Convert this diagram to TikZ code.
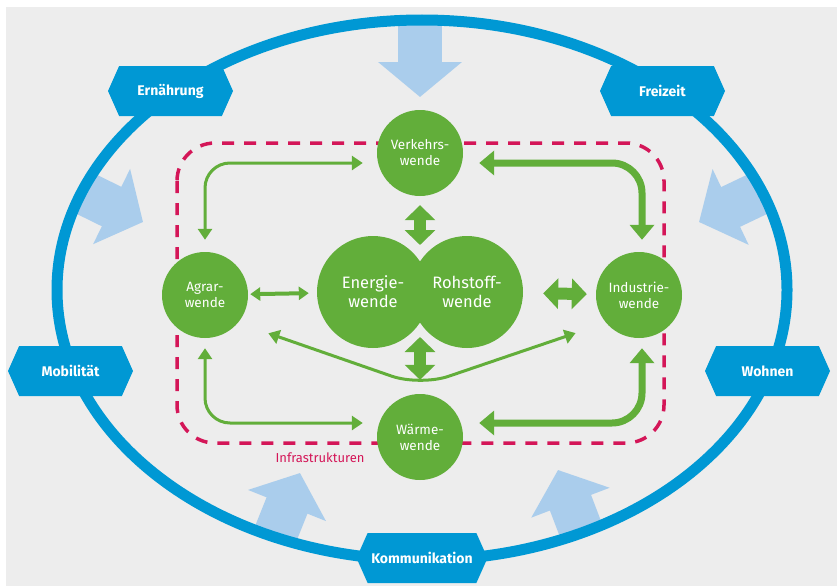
\documentclass[tikz,border=0pt]{standalone}
\usepackage{fontspec}
\setmainfont{Fira Sans}
\usepackage{tikz}
\usetikzlibrary{arrows.meta,shapes.symbols}

\definecolor{ringblue}{RGB}{0,152,212}
\definecolor{paleblue}{RGB}{170,205,236}
\definecolor{wendegreen}{RGB}{98,174,58}
\definecolor{infrared}{RGB}{212,22,88}
\definecolor{bggray}{RGB}{237,237,237}

\begin{document}
\begin{tikzpicture}[x=1pt,y=-1pt,
    wende/.style={circle,fill=wendegreen,text=white,align=center,inner sep=0pt,
      minimum size=86pt,font=\fontsize{13.5}{16}\selectfont},
    bigwende/.style={wende,minimum size=112pt,font=\fontsize{16.5}{19}\selectfont},
    field/.style={signal,signal to=east and west,signal pointer angle=132,
      fill=ringblue,text=white,minimum width=125pt,minimum height=50pt,
      inner sep=0pt,font=\fontsize{14}{16}\selectfont\bfseries},
    push/.style={paleblue,line width=44pt,-{Triangle[length=35pt,width=82pt]}},
    thinarr/.style={wendegreen,line width=3pt,rounded corners=25pt,
      {Triangle[length=11pt,width=14pt]}-{Triangle[length=11pt,width=14pt]}},
    thickarr/.style={wendegreen,line width=7pt,rounded corners=30pt,
      {Triangle[length=15pt,width=24pt]}-{Triangle[length=15pt,width=24pt]}},
    midarr/.style={wendegreen,line width=4pt,
      {Triangle[length=10pt,width=13pt]}-{Triangle[length=10pt,width=13pt]}},
    bigarr/.style={wendegreen,line width=12pt,
      {Triangle[length=15pt,width=30pt]}-{Triangle[length=15pt,width=30pt]}}]
  \useasboundingbox (0,0) rectangle (837,586);
  \fill[bggray] (6,7) rectangle (837,586);

  % influences from outside
  \draw[push] (420,15) -- (420,97);
  \draw[push] (82,192) -- (143,222);
  \draw[push] (762,192) -- (699,222);
  \draw[push] (274,538) -- (300,473);
  \draw[push] (582,533) -- (558,470);

  % ring
  \draw[ringblue,line width=11pt] (422,290) ellipse [x radius=365pt,y radius=270pt];
  \node[field] (ernaehrung) at (170.5,91) {Ernährung};
  \node[field] (freizeit) at (662.5,91) {Freizeit};
  \node[field] (mobil) at (70.5,371) {Mobilität};
  \node[field] (wohnen) at (767.5,371) {Wohnen};
  \node[field,minimum width=131pt] (kommu) at (422,558) {Kommunikation};

  % infrastructure
  \draw[infrared,line width=3.5pt,dash pattern=on 12pt off 10pt,rounded corners=38pt]
    (177,143) rectangle (664,443);
  \node[text=infrared,font=\fontsize{13}{15}\selectfont] (infra) at (320,458) {Infrastrukturen};

  % transitions
  \coordinate (ktop) at (420,262);
  \coordinate (kbot) at (420,322);
  \coordinate (vbot) at (420,386);
  \node[wende] (verkehr) at (420,153) {Verkehrs-\\wende};
  \node[wende] (waerme) at (420,437) {Wärme-\\wende};
  \node[wende] (agrar) at (205,295) {Agrar-\\wende};
  \node[wende] (industrie) at (639,295) {Industrie-\\wende};
  \node[bigwende] (energie) at (373,292) {Energie-\\wende};
  \node[bigwende] (rohstoff) at (467,292) {Rohstoff-\\wende};

  \draw[thinarr,shorten <=12pt,shorten >=14pt] (agrar) |- ([yshift=-10pt]verkehr.west);
  \draw[thickarr,shorten <=16pt,shorten >=12pt] ([yshift=-10pt]verkehr.east) -| ([xshift=3pt]industrie.north);
  \draw[thinarr,shorten <=10pt,shorten >=14pt] (agrar) |- ([yshift=14pt]waerme.west);
  \draw[thickarr,shorten <=16pt,shorten >=10pt] ([yshift=14pt]waerme.east) -| ([xshift=3pt]industrie.south);
  \draw[midarr,shorten <=2pt,shorten >=8pt] (agrar) -- (energie);
  \draw[bigarr,shorten <=20pt,shorten >=9pt] (rohstoff) -- (industrie);
  \draw[bigarr,shorten <=9pt,shorten >=17pt] (verkehr) -- (ktop);
  \draw[bigarr,shorten <=15pt,shorten >=14pt] (kbot) -- (waerme);
  \draw[thinarr,rounded corners=30pt,shorten <=32pt,shorten >=32pt]
    (agrar.-40) -- (vbot) -- (industrie.-140);
\end{tikzpicture}
\end{document}
